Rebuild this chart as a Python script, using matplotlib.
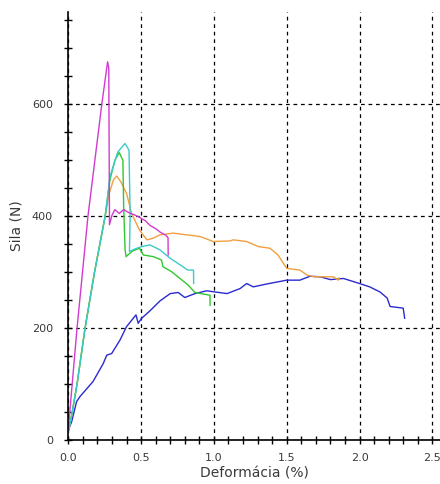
import matplotlib
matplotlib.use("Agg")
import matplotlib.pyplot as plt
from matplotlib.ticker import MultipleLocator

# deformation (%) / force (N)
mag_x = [0.0, 0.02, 0.06, 0.135, 0.23, 0.27, 0.278, 0.283, 0.30, 0.32, 0.35, 0.38, 0.42, 0.46,
         0.49, 0.53, 0.56, 0.60, 0.63, 0.67, 0.685, 0.686]
mag_y = [20, 80, 200, 400, 600, 676, 665, 385, 402, 412, 405, 412, 406, 402,
         398, 392, 384, 378, 372, 366, 362, 331]

ora_x = [0.0, 0.02, 0.06, 0.115, 0.18, 0.253, 0.28, 0.31, 0.332, 0.36, 0.40, 0.435, 0.49, 0.54,
         0.584, 0.63, 0.72, 0.81, 0.905, 0.996, 1.11, 1.133, 1.225, 1.305, 1.385, 1.44, 1.50,
         1.59, 1.64, 1.69, 1.82, 1.855, 1.86]
ora_y = [15, 40, 100, 200, 300, 400, 440, 465, 472, 462, 441, 405, 375, 358,
         361, 367, 370, 367, 364, 355, 356, 358, 355, 346, 343, 331, 307,
         304, 295, 292, 292, 286, 290]

grn_x = [0.0, 0.02, 0.06, 0.115, 0.18, 0.253, 0.286, 0.32, 0.35, 0.375, 0.38, 0.39, 0.397,
         0.44, 0.49, 0.515, 0.584, 0.64, 0.65, 0.71, 0.767, 0.824, 0.87, 0.973, 0.974]
grn_y = [15, 40, 100, 200, 300, 400, 465, 500, 514, 500, 420, 340, 328,
         338, 343, 331, 328, 322, 310, 301, 289, 277, 264, 259, 241]

cya_x = [0.0, 0.02, 0.06, 0.115, 0.18, 0.253, 0.286, 0.34, 0.39, 0.417, 0.425, 0.42,
         0.46, 0.504, 0.56, 0.63, 0.70, 0.77, 0.82, 0.86, 0.861]
cya_y = [15, 40, 100, 200, 300, 400, 471, 515, 530, 518, 400, 337,
         342, 346, 349, 340, 325, 313, 304, 304, 280]

blu_x = [0.0, 0.023, 0.057, 0.08, 0.17, 0.24, 0.264, 0.298, 0.355, 0.40, 0.465, 0.48, 0.504,
         0.56, 0.63, 0.70, 0.755, 0.80, 0.87, 0.95, 1.09, 1.18, 1.225, 1.27, 1.36, 1.50,
         1.59, 1.66, 1.73, 1.80, 1.89, 2.0, 2.07, 2.14, 2.19, 2.21, 2.30, 2.31]
blu_y = [18, 33, 69, 78, 105, 137, 152, 155, 179, 203, 224, 209, 218,
         231, 249, 262, 264, 255, 262, 267, 262, 271, 280, 274, 279, 286,
         286, 293, 292, 287, 289, 280, 274, 265, 254, 239, 236, 218]

fig = plt.figure(figsize=(4.4, 4.84), dpi=100)
ax = fig.add_axes([0.1552, 0.0903, 0.8439, 0.885])

ax.plot(blu_x, blu_y, color="#2a2ad2", lw=1.0)
ax.plot(ora_x, ora_y, color="#f0a040", lw=1.0)
ax.plot(grn_x, grn_y, color="#30c830", lw=1.0)
ax.plot(cya_x, cya_y, color="#3ccaca", lw=1.0)
ax.plot(mag_x, mag_y, color="#d03cd0", lw=1.0)

ax.set_xlim(0, 2.55)
ax.set_ylim(0, 765)
ax.xaxis.set_major_locator(MultipleLocator(0.5))
ax.xaxis.set_minor_locator(MultipleLocator(0.1))
ax.yaxis.set_major_locator(MultipleLocator(200))
ax.yaxis.set_minor_locator(MultipleLocator(50))
ax.xaxis.set_major_formatter(plt.FormatStrFormatter("%.1f"))

ax.grid(True, which="major", color="black", linestyle=(0, (3, 3)), linewidth=0.9)
for s in ["top", "right"]:
    ax.spines[s].set_visible(False)
ax.spines["left"].set_linewidth(1.2)
ax.spines["bottom"].set_linewidth(1.2)

ax.tick_params(which="both", direction="inout", length=6, width=1.0, colors="black",
               labelcolor="#3a3a3a", labelsize=8)
ax.tick_params(axis="x", pad=6)
ax.tick_params(axis="y", pad=8)

ax.set_xlabel("Deformácia (%)", fontsize=10, color="#3a3a3a", labelpad=3)
ax.set_ylabel("Sila (N)", fontsize=10, color="#3a3a3a", labelpad=6)

fig.savefig("out.png", dpi=100)
